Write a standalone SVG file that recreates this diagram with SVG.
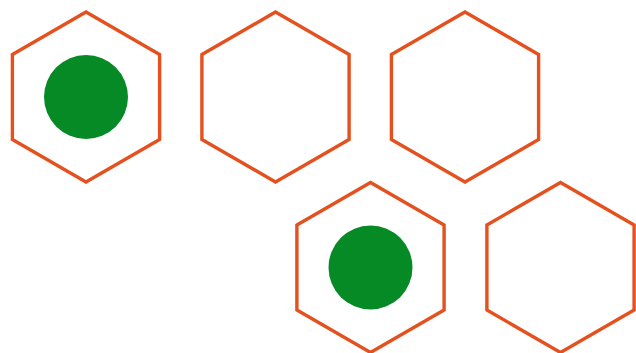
<svg xmlns="http://www.w3.org/2000/svg" width="636" height="353" viewBox="0 0 636 353">
<style>
.hex{fill:#fff;stroke:#E4501E;stroke-width:3.4;stroke-linejoin:miter}
.dot{fill:#058A25}
</style>
<defs>
<polygon id="h" points="0,-85 73.6,-42.5 73.6,42.5 0,85 -73.6,42.5 -73.6,-42.5"/>
</defs>
<rect width="636" height="353" fill="#fff"/>
<g id="hex1" transform="translate(86,97)"><use href="#h" class="hex"/><circle class="dot" r="42"/></g>
<g id="hex2" transform="translate(275.5,97)"><use href="#h" class="hex"/></g>
<g id="hex3" transform="translate(465,97)"><use href="#h" class="hex"/></g>
<g id="hex4" transform="translate(370.5,267.5)"><use href="#h" class="hex"/><circle class="dot" r="42"/></g>
<g id="hex5" transform="translate(560.5,267.5)"><use href="#h" class="hex"/></g>
<g id="connectors"/>
</svg>
